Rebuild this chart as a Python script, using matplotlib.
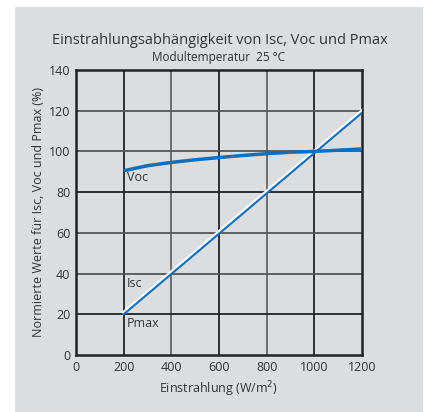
import matplotlib
matplotlib.use("Agg")
import matplotlib.pyplot as plt
from matplotlib.patches import Rectangle

# Data
irr = [200, 300, 400, 500, 600, 700, 800, 900, 1000, 1100, 1200]
voc = [90.5, 93.0, 94.6, 95.9, 97.0, 98.0, 98.9, 99.6, 100.0, 100.6, 101.2]
isc_x = [200, 1200]
isc = [21.0, 120.0]
pmax_x = [200, 1200]
pmax = [20.0, 119.0]
xticks = [0, 200, 400, 600, 800, 1000, 1200]
yticks = [0, 20, 40, 60, 80, 100, 120, 140]

plt.rcParams['font.family'] = ['Open Sans', 'DejaVu Sans']
W, H = 427, 412
fig = plt.figure(figsize=(W / 100, H / 100), dpi=100)
fig.patch.set_facecolor('white')
bg = '#dcdddf'
fig.patches.append(Rectangle((15 / W, 0), (423 - 15) / W, (412 - 7) / H,
                             transform=fig.transFigure, facecolor=bg,
                             edgecolor='none', zorder=-10))

ax = fig.add_axes([76 / W, 1 - 355 / H, (362 - 76) / W, (355 - 70) / H])
ax.set_zorder(5)
ax.set_facecolor(bg)
ax.set_xlim(0, 1200)
ax.set_ylim(0, 140)
ax.set_xticks(xticks)
ax.set_yticks(yticks)
txt = '#333333'
ax.tick_params(length=0, labelsize=9, colors=txt, pad=4)

for x in xticks[1:-1]:
    c = '#222222' if x in (200, 600, 1000) else '#666666'
    ax.axvline(x, color=c, lw=1.3, zorder=1)
for y in yticks[1:-1]:
    c = '#222222' if y in (20, 80) else '#555555'
    ax.axhline(y, color=c, lw=1.3, zorder=1)
for s in ax.spines.values():
    s.set_color('#222222')
    s.set_linewidth(1.8)

blue = '#0a6fbd'
ax.plot(isc_x, isc, color='white', lw=2.2, zorder=3)
ax.plot(pmax_x, pmax, color=blue, lw=1.5, zorder=4)
ax.plot(irr, voc, color=blue, lw=2.5, zorder=5, solid_capstyle='butt')

ax.text(215, 87, 'Voc', fontsize=9, color=txt, va='center', ha='left')
ax.text(215, 35, 'Isc', fontsize=9, color=txt, va='center', ha='left')
ax.text(215, 15.5, 'Pmax', fontsize=9, color=txt, va='center', ha='left')

ax.set_xlabel('Einstrahlung (W/m$^2$)', fontsize=9, color=txt, labelpad=4)
ax.set_ylabel('Normierte Werte für Isc, Voc und Pmax (%)', fontsize=9,
              color=txt, labelpad=3)

fig.text(220 / W, 1 - 41 / H, 'Einstrahlungsabhängigkeit von Isc, Voc und Pmax',
         ha='center', va='center', fontsize=10.5, color=txt)
fig.text(219 / W, 1 - 57 / H, 'Modultemperatur  25 °C',
         ha='center', va='center', fontsize=8.5, color=txt)

fig.savefig('out.png', dpi=100, facecolor=fig.get_facecolor())
